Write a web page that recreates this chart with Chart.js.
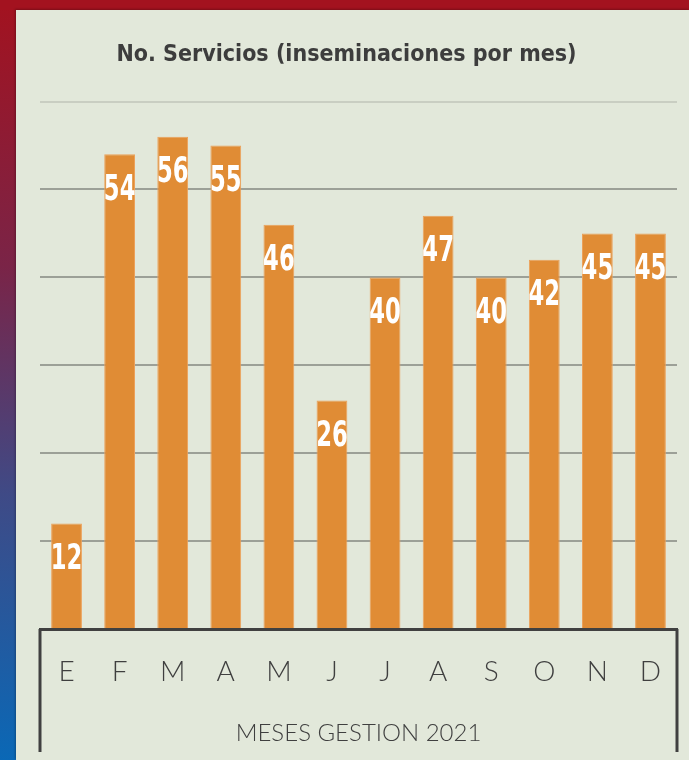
<!DOCTYPE html>
<html>
<head>
<meta charset="utf-8">
<script src="https://cdn.jsdelivr.net/npm/chart.js@4.4.0/dist/chart.umd.min.js"></script>
<style>
  html, body { margin: 0; padding: 0; }
  body {
    width: 689px; height: 760px; overflow: hidden; position: relative;
    background: linear-gradient(180deg, #a3121f 0%, #7a2447 35%, #3f4a86 65%, #0a68b6 100%);
  }
  .top-strip { position: absolute; left: 0; top: 0; width: 689px; height: 10px; background: #a3121f; }
  .panel {
    position: absolute; left: 16px; top: 10px; width: 673px; height: 750px;
    background: #e2e8da; box-shadow: -1px -1px 2px rgba(0,0,0,0.25);
  }
  canvas { display: block; }
</style>
</head>
<body>
<div class="top-strip"></div>
<div class="panel"><canvas id="chart" width="673" height="750"></canvas></div>
<script>
// Data
const months = ['E', 'F', 'M', 'A', 'M', 'J', 'J', 'A', 'S', 'O', 'N', 'D'];
const servicios = [12, 54, 56, 55, 46, 26, 40, 47, 40, 42, 45, 45];
const yTicks = [0, 10, 20, 30, 40, 50, 60];

const titleText = 'No. Servicios (inseminaciones por mes)';
const axisTitle = 'MESES GESTION 2021';

const narrow = "'Liberation Sans Narrow', 'DejaVu Sans Condensed', 'Noto Sans', sans-serif";
const light = "Lato, 'Open Sans', sans-serif";


// white value labels inside the top of each bar (squeezed a bit, the original font is narrow)
const barLabels = {
  id: 'barLabels',
  afterDatasetsDraw(chart) {
    const ctx = chart.ctx;
    const meta = chart.getDatasetMeta(0);
    ctx.save();
    ctx.fillStyle = '#ffffff';
    ctx.font = `bold 36px ${narrow}`;
    ctx.textAlign = 'center';
    ctx.textBaseline = 'middle';
    meta.data.forEach((bar, i) => {
      ctx.save();
      ctx.translate(bar.x, bar.y + 36);
      ctx.scale(0.7, 1);
      ctx.fillText(String(servicios[i]), 0, 0);
      ctx.restore();
    });
    ctx.restore();
  }
};


// vertical frame lines below the axis
const axisFrame = {
  id: 'axisFrame',
  afterDraw(chart) {
    const ctx = chart.ctx;
    const area = chart.chartArea;
    ctx.save();
    ctx.strokeStyle = '#404040';
    ctx.lineWidth = 3;
    ctx.beginPath();
    ctx.moveTo(area.left, area.bottom);
    ctx.lineTo(area.left, chart.height - 8);
    ctx.moveTo(area.right, area.bottom);
    ctx.lineTo(area.right, chart.height - 8);
    ctx.stroke();
    ctx.restore();
  }
};


const ctx = document.getElementById('chart');
const chart = new Chart(ctx, {
  type: 'bar',
  data: {
    labels: months,
    datasets: [{
      data: servicios,
      backgroundColor: '#e08c35',
      borderColor: '#eca15a',
      borderWidth: 1,
      categoryPercentage: 1,
      barPercentage: 0.58
    }]
  },
  options: {
    responsive: false,
    animation: false,
    layout: { padding: { left: 0, right: 12, top: 0, bottom: 0 } },
    plugins: {
      legend: { display: false },
      tooltip: { enabled: false },
      title: {
        display: true,
        text: titleText,
        color: '#3d3d3d',
        font: { family: narrow, size: 23, weight: 'bold', lineHeight: 1.2 },
        padding: { top: 31, bottom: 33 }
      }
    },
    scales: {
      y: {
        min: yTicks[0],
        max: yTicks[yTicks.length - 1],
        z: 1,
        afterFit(scale) { scale.width = 24; },
        afterBuildTicks(scale) { scale.ticks = yTicks.map(v => ({ value: v })); },
        ticks: { display: false },
        border: { display: false },
        grid: {
          drawTicks: false,
          lineWidth: 2,
          color: (c) => {
            const v = c.tick ? c.tick.value : 0;
            if (v === 0) return 'rgba(0,0,0,0)';
            if (v === 60) return 'rgba(170,175,165,0.45)';
            return 'rgba(60,60,60,0.42)';
          }
        }
      },
      x: {
        afterFit(scale) { scale.height = 131; },
        grid: { display: false },
        border: { display: true, color: '#404040', width: 3 },
        ticks: {
          color: '#3f3f3f',
          padding: 18,
          font: { family: light, size: 28, weight: 300 }
        },
        title: {
          display: true,
          text: axisTitle,
          color: '#3f3f3f',
          font: { family: light, size: 24, weight: 300, lineHeight: 1.2 },
          padding: { top: 0, bottom: 12 }
        }
      }
    }
  },
  plugins: [barLabels, axisFrame]
});
</script>
</body>
</html>
